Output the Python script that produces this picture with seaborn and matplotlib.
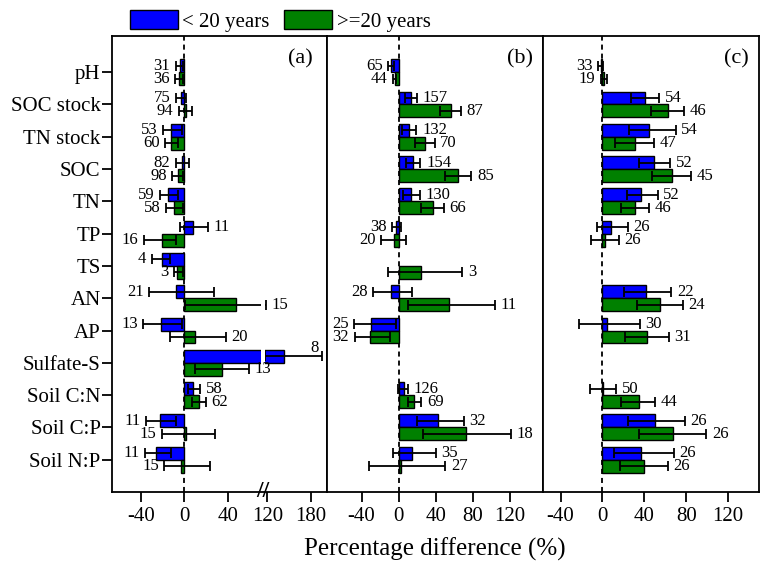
import matplotlib
matplotlib.use("Agg")
import matplotlib.pyplot as plt
import matplotlib.transforms as mtransforms
import numpy as np
import pandas as pd
import seaborn as sns
from matplotlib.patches import Patch

NA = np.nan

CATEGORIES = ["pH", "SOC stock", "TN stock", "SOC", "TN", "TP", "TS", "AN", "AP",
              "Sulfate-S", "Soil C:N", "Soil C:P", "Soil N:P"]
GROUPS = ["< 20 years", ">=20 years"]
PANEL_LABELS = ["(a)", "(b)", "(c)"]

# panel (a)
A_LT20_MEAN = [-4, -3.5, -12, -2.4, -14.8, 8.3, -20.4, -8, -21.9, 143, 7.8, -22.5, -26.2]
A_LT20_LO = [-8, -8, -19.4, -8, -22.5, -4, -30.2, -32.4, -38, 100, 3.1, -35.7, -36.4]
A_LT20_HI = [-1, 1.6, -2.4, 4.6, -5.5, 21.3, -13.2, 26.9, -2.4, 195, 14.5, -7.7, -12.6]
A_LT20_N = [31, 75, 53, 82, 59, 11, 4, 21, 13, 8, 58, 11, 11]
A_GE20_MEAN = [-5, 1, -12.3, -5.5, -9.5, -20.9, -7, 47.6, 9.3, 34.6, 13, 1, -3]
A_GE20_LO = [-8.6, -4.9, -17.9, -11.1, -17, -37, -9.5, 0.6, -13.2, 9.9, 6.8, -20.9, -18.5]
A_GE20_HI = [-1.5, 6.9, -6.1, -0.9, -0.9, -7.7, -1.5, 108, 38.3, 59.3, 19.8, 28.4, 23.1]
A_GE20_N = [36, 94, 60, 98, 58, 16, 3, 15, 20, 13, 62, 15, 15]

# panel (b)
B_LT20_MEAN = [-8.6, 13.6, 11.1, 15.4, 12.9, -3, NA, -7.9, -29.5, NA, 5.4, 42.4, 14.7]
B_LT20_LO = [-11.5, 6.5, 3.6, 8.3, 4.7, -7, NA, -27.7, -48.2, NA, -0.7, 20.1, -6.1]
B_LT20_HI = [-5, 20.1, 19.1, 23.4, 22.6, 2, NA, 14.4, -2.5, NA, 10, 70.4, 39.9]
B_LT20_N = [65, 157, 132, 154, 130, 38, NA, 28, 25, NA, 126, 32, 35]
B_GE20_MEAN = [-4.5, 56, 28, 63.9, 37, -5.4, 24.4, 54.3, -30.5, NA, 16.5, 72.9, 2.9]
B_GE20_LO = [-6, 44.2, 17.2, 50.3, 24.4, -18.7, -11.5, 10, -47.4, NA, 10, 26.3, -32.3]
B_GE20_HI = [-3, 66.8, 38.8, 78.3, 48.5, 7.5, 68.6, 103.4, -9, NA, 24.4, 120.4, 50.3]
B_GE20_N = [44, 87, 70, 85, 66, 20, 3, 11, 32, NA, 69, 18, 27]

# panel (c)
C_LT20_MEAN = [-1.5, 41, 44.1, 49, 36.8, 8.4, NA, 41.6, 4.8, NA, 0.5, 49.9, 36.8]
C_LT20_LO = [-3.8, 27.5, 25, 34.6, 23.4, -4.8, NA, 20.2, -22, NA, -11.8, 24.4, 10.6]
C_LT20_HI = [1, 54.4, 69.8, 65, 52.8, 24.4, NA, 65.9, 35.5, NA, 13.1, 78.7, 68.1]
C_LT20_N = [33, 54, 54, 52, 52, 26, NA, 22, 30, NA, 50, 26, 26]
C_GE20_MEAN = [1.5, 62.4, 31.4, 66.6, 31.4, 2, NA, 54.7, 42.6, NA, 34.6, 67.5, 40]
C_GE20_LO = [-1.2, 46.4, 12.2, 47.4, 17.7, -11.1, NA, 33, 21.8, NA, 17.9, 35.2, 17]
C_GE20_HI = [4.2, 77.7, 49.6, 84.8, 44.8, 16, NA, 76.8, 63.3, NA, 50.6, 99.2, 62.4]
C_GE20_N = [19, 46, 47, 45, 46, 26, NA, 24, 31, NA, 44, 26, 26]

# where the sample size sits: L = left of CI, R = right of CI, T = above the upper cap
A_SIDES = ["LLLLLRLLLTRLL", "LLLLLLLRRRRLL"]
B_SIDES = ["LRRRRL-LL-RRR", "LRRRRLRRL-RRR"]
C_SIDES = ["LRRRRR-RR-RRR", "LRRRRR-RR-RRR"]

BLUE = "#0000ff"
GREEN = "#008000"


def squeeze(v):
    v = np.asarray(v, dtype=float)
    return np.where(v <= 70, v, np.where(v <= 120, 70 + (v - 70) * 0.126, 76.3 + (v - 120) * 0.668))


def unsqueeze(t):
    t = np.asarray(t, dtype=float)
    return np.where(t <= 70, t, np.where(t <= 76.3, 70 + (t - 70) / 0.126, 120 + (t - 76.3) / 0.668))


def build_frame(means, los, his, ns, sides):
    rows = []
    for g, grp in enumerate(GROUPS):
        for i, cat in enumerate(CATEGORIES):
            if np.isnan(means[g][i]):
                continue
            rows.append({"variable": cat, "group": grp, "value": means[g][i],
                         "lo": los[g][i], "hi": his[g][i], "n": int(ns[g][i]),
                         "side": sides[g][i], "pos": i + (g - 0.5) * 0.4})
    return pd.DataFrame(rows)


def main():
    sns.set_style("ticks", {"axes.edgecolor": "black", "xtick.color": "black",
                            "ytick.color": "black", "text.color": "black",
                            "axes.labelcolor": "black"})
    plt.rcParams["font.family"] = ["Liberation Serif", "DejaVu Serif"]
    plt.rcParams["axes.unicode_minus"] = False

    panels = [
        build_frame([A_LT20_MEAN, A_GE20_MEAN], [A_LT20_LO, A_GE20_LO], [A_LT20_HI, A_GE20_HI],
                    [A_LT20_N, A_GE20_N], A_SIDES),
        build_frame([B_LT20_MEAN, B_GE20_MEAN], [B_LT20_LO, B_GE20_LO], [B_LT20_HI, B_GE20_HI],
                    [B_LT20_N, B_GE20_N], B_SIDES),
        build_frame([C_LT20_MEAN, C_GE20_MEAN], [C_LT20_LO, C_GE20_LO], [C_LT20_HI, C_GE20_HI],
                    [C_LT20_N, C_GE20_N], C_SIDES),
    ]
    xlims = [(-67, 203), (-76.8, 155.5), (-56.6, 149.4)]
    xticks = [[-40, 0, 40, 120, 180], [-40, 0, 40, 80, 120], [-40, 0, 40, 80, 120]]
    label_x = [0.93, 0.955, 0.955]

    fig, axes = plt.subplots(1, 3, figsize=(7.6, 5.67), dpi=100)
    fig.subplots_adjust(left=0.147, right=0.9985, top=0.9365, bottom=0.1323, wspace=0)

    for k, (ax, df) in enumerate(zip(axes, panels)):
        ax.axvline(0, color="black", lw=1.3, ls=(0, (2.8, 2.2)), zorder=0.5)
        sns.barplot(data=df, x="value", y="variable", hue="group", order=CATEGORIES,
                    hue_order=GROUPS, palette=[BLUE, GREEN], saturation=1, orient="h",
                    errorbar=None, edgecolor="black", linewidth=1, width=0.8, legend=False, ax=ax)
        ax.errorbar(df["value"], df["pos"], xerr=[df["value"] - df["lo"], df["hi"] - df["value"]],
                    fmt="none", ecolor="black", elinewidth=1.3, capsize=3.3, capthick=1.3, zorder=4)

        for _, r in df.iterrows():
            if r["side"] == "L":
                ax.annotate(str(r["n"]), (r["lo"], r["pos"]), xytext=(-4, 0), textcoords="offset points",
                            ha="right", va="center", fontsize=12, zorder=6)
            elif r["side"] == "R":
                ax.annotate(str(r["n"]), (r["hi"], r["pos"]), xytext=(4, 0), textcoords="offset points",
                            ha="left", va="center", fontsize=12, zorder=6)
            else:
                ax.annotate(str(r["n"]), (r["hi"], r["pos"]), xytext=(-2, 6), textcoords="offset points",
                            ha="right", va="center", fontsize=12, zorder=6)

        if k == 0:
            ax.set_xscale("function", functions=(squeeze, unsqueeze))
            ax.axvspan(70.8, 106, ymin=0.003, ymax=0.997, color="white", lw=0, zorder=5)
            trans = mtransforms.blended_transform_factory(ax.transData, ax.transAxes)
            ax.text(89, 0, "//", transform=trans, ha="center", va="center", fontsize=17,
                    fontweight="bold", clip_on=False, zorder=7)

        ax.set_xlim(*xlims[k])
        ax.set_xticks(xticks[k])
        ax.set_xticklabels([str(t) for t in xticks[k]])
        ax.set_ylim(13, -1.12)
        ax.set_ylabel("")
        ax.set_xlabel("")
        ax.tick_params(axis="both", direction="out", length=7, width=1.3, labelsize=15)
        ax.tick_params(axis="y", pad=1)
        ax.tick_params(axis="x", pad=4)
        if k > 0:
            ax.tick_params(axis="y", left=False, labelleft=False)
        for sp in ax.spines.values():
            sp.set_visible(True)
            sp.set_linewidth(1.3)
            sp.set_zorder(8)
        ax.text(label_x[k], 0.95, PANEL_LABELS[k], transform=ax.transAxes, ha="right",
                va="center", fontsize=16)

    axes[1].set_xlabel("Percentage difference (%)", fontsize=18, labelpad=8)

    handles = [Patch(facecolor=BLUE, edgecolor="black", lw=1, label=GROUPS[0]),
               Patch(facecolor=GREEN, edgecolor="black", lw=1, label=GROUPS[1])]
    fig.legend(handles=handles, loc="center left", bbox_to_anchor=(0.171, 0.963), ncol=2,
               frameon=False, fontsize=15, handlelength=2.3, handleheight=1.05,
               handletextpad=0.2, columnspacing=0.72, borderpad=0, borderaxespad=0)

    fig.savefig("out.png", dpi=100)


if __name__ == "__main__":
    main()
